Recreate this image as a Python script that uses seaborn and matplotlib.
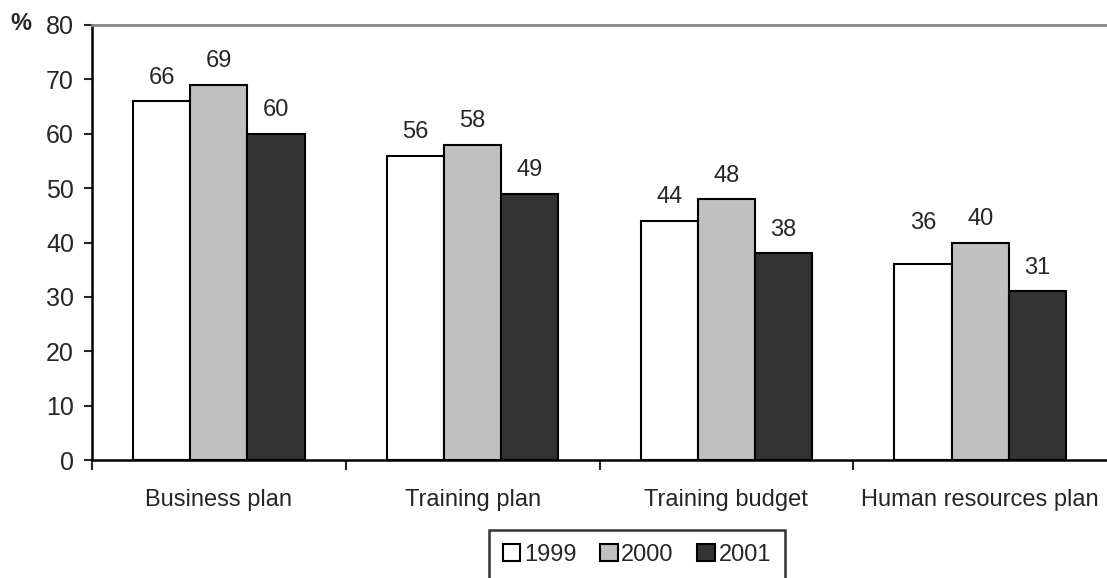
import matplotlib
matplotlib.use("Agg")
import matplotlib.pyplot as plt
import seaborn as sns
import pandas as pd
import numpy as np

categories = ["Business plan", "Training plan", "Training budget", "Human resources plan"]
years = ["1999", "2000", "2001"]
v1999 = [66, 56, 44, 36]
v2000 = [69, 58, 48, 40]
v2001 = [60, 49, 38, 31]
colors = ["#FFFFFF", "#C0C0C0", "#333333"]

rows = []
for yr, vals in zip(years, [v1999, v2000, v2001]):
    for c, v in zip(categories, vals):
        rows.append({"category": c, "year": yr, "value": v})
df = pd.DataFrame(rows)

sns.set_style("white")
plt.rcParams['font.family'] = ['Liberation Sans', 'DejaVu Sans']

fig = plt.figure(figsize=(11.07, 5.78), dpi=100)
ax = fig.add_axes([92 / 1107, 1 - 460 / 578, 1 - 92 / 1107, (460 - 25) / 578])

sns.barplot(data=df, x="category", y="value", hue="year", palette=colors,
            edgecolor="black", linewidth=1.5, width=0.675, ax=ax)

bar_texts = []
for cont in ax.containers:
    bar_texts.append(ax.bar_label(cont, padding=9, fontsize=17))
# the last 1999 label sits a bit higher in the original
bar_texts[0][-1].xyann = (0, 22)

ax.set_ylim(0, 80)
ax.set_xlim(-0.5, 3.5)
ax.set_yticks(np.arange(0, 81, 10))
ax.tick_params(axis="y", labelsize=18, length=6, width=1.5, direction="out", left=True, pad=7)
ax.set_xticks(range(len(categories)))
ax.set_xticklabels(categories, fontsize=17)
ax.tick_params(axis="x", which="major", length=0, pad=21)
ax.set_xticks([-0.5, 0.5, 1.5, 2.5], minor=True)
ax.tick_params(axis="x", which="minor", length=7, width=1.5, direction="out", bottom=True)
ax.set_xlabel("")
ax.set_ylabel("")

for s in ["left", "bottom"]:
    ax.spines[s].set_color("black")
    ax.spines[s].set_linewidth(1.8)
ax.spines["top"].set_color("#888888")
ax.spines["top"].set_linewidth(2)
ax.spines["right"].set_visible(False)

fig.text(10 / 1107, 1 - 23 / 578, "%", fontsize=17, fontweight="bold", va="center", ha="left")

handles, labels = ax.get_legend_handles_labels()
ax.get_legend().remove()
leg = fig.legend(handles, labels, loc="upper center", bbox_to_anchor=(637 / 1107, 1 - 518 / 578),
                 ncol=3, frameon=True, fontsize=17, handlelength=0.75, handleheight=0.75,
                 handletextpad=0.15, columnspacing=1.0, borderpad=0.6, fancybox=False)
leg.get_frame().set_edgecolor("black")
leg.get_frame().set_linewidth(1.8)

fig.savefig("out.png", dpi=100)
